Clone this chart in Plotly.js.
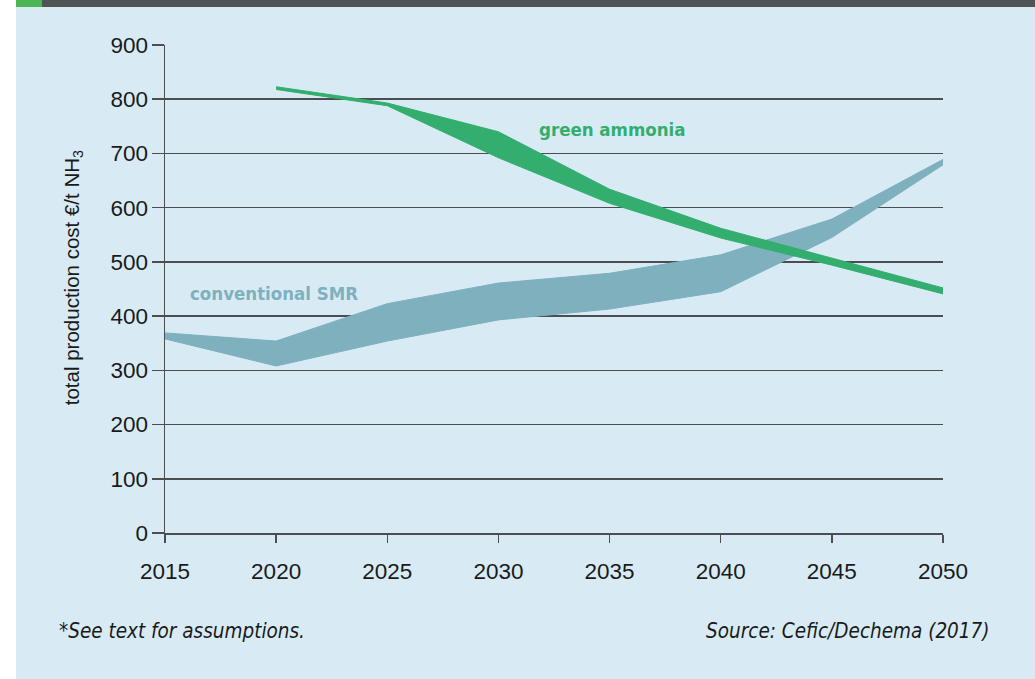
<!DOCTYPE html>
<html>
<head>
<meta charset="utf-8">
<script src="https://cdn.plot.ly/plotly-3.0.1.min.js"></script>
<style>
  html, body { margin: 0; padding: 0; background: #ffffff; }
  #chart { width: 1035px; height: 679px; }
</style>
</head>
<body>
<div id="chart"></div>
<script>
// ---- data ----
const smrYears   = [2015, 2020, 2025, 2030, 2035, 2040, 2045, 2050];
const smrLow     = [358, 308, 354, 393, 413, 445, 545, 679];
const smrHigh    = [369, 354, 423, 461, 479, 513, 579, 689];

const greenYears = [2020, 2025, 2030, 2035, 2040, 2045, 2050];
const greenLow   = [818, 788, 692, 608, 544, 494, 441];
const greenHigh  = [823, 793, 740, 634, 562, 507, 452];

const yTicks     = [0, 100, 200, 300, 400, 500, 600, 700, 800, 900];
const xTicks     = [2015, 2020, 2025, 2030, 2035, 2040, 2045, 2050];

const smrLabel   = 'conventional SMR';
const greenLabel = 'green ammonia';
const yTitle     = '&nbsp;&nbsp;&nbsp;&nbsp;total production cost €/t NH<sub>3</sub>';
const noteLeft   = '*See text for assumptions.';
const noteRight  = 'Source: Cefic/Dechema (2017)';

// ---- colours ----
const BG = '#d8ebf4';
const SMR_C = '#7fb0be';
const GREEN_C = '#33ae6e';
const LINE_C = '#4a4e50';
const TXT = '#1a1a1a';

function band(xs, lo, hi) {
  return {
    x: xs.concat(xs.slice().reverse()),
    y: hi.concat(lo.slice().reverse())
  };
}

const smrBand = band(smrYears, smrLow, smrHigh);
const greenBand = band(greenYears, greenLow, greenHigh);

const traces = [
  {
    type: 'scatter', mode: 'lines',
    x: smrBand.x, y: smrBand.y,
    fill: 'toself', fillcolor: SMR_C,
    line: { color: SMR_C, width: 1 },
    hoverinfo: 'skip', showlegend: false
  },
  {
    type: 'scatter', mode: 'lines',
    x: greenBand.x, y: greenBand.y,
    fill: 'toself', fillcolor: GREEN_C,
    line: { color: GREEN_C, width: 1 },
    hoverinfo: 'skip', showlegend: false
  }
];

// pixel helpers for paper-level decorations
const L = 165, R = 943, T = 45, B = 533;
const px = v => (v - L) / (R - L);
const py = v => (B - v) / (B - T);

const condensed = '"Liberation Sans Narrow", "DejaVu Sans Condensed", "Roboto Condensed", sans-serif';

const layout = {
  width: 1035, height: 679,
  margin: { l: L, r: 1035 - R, t: T, b: 679 - B },
  paper_bgcolor: BG,
  plot_bgcolor: BG,
  showlegend: false,
  font: { family: '"Liberation Sans", Arial, sans-serif', color: TXT },
  xaxis: {
    range: [2015, 2050],
    tickvals: xTicks,
    ticktext: xTicks.map(String),
    showgrid: false, zeroline: false,
    showline: true, linecolor: LINE_C, linewidth: 1.5,
    ticks: 'outside', ticklen: 8, tickwidth: 1.5, tickcolor: LINE_C,
    tickfont: { size: 22.5, color: TXT },
    ticklabelstandoff: 9,
    fixedrange: true
  },
  yaxis: {
    range: [0, 900],
    tickvals: yTicks,
    showgrid: true, gridcolor: LINE_C, gridwidth: 1.5,
    zeroline: false,
    showline: true, linecolor: LINE_C, linewidth: 1.5,
    ticks: 'outside', ticklen: 12, tickwidth: 1.5, tickcolor: LINE_C,
    tickfont: { size: 22.5, color: TXT },
    ticklabelstandoff: -1,
    title: { text: yTitle, font: { size: 20.5, color: TXT }, standoff: 25 },
    automargin: false,
    fixedrange: true
  },
  shapes: [
    { type: 'rect', xref: 'paper', yref: 'paper', x0: px(0), x1: px(16), y0: py(679), y1: py(0),
      fillcolor: '#ffffff', line: { width: 0 }, layer: 'above' },
    { type: 'rect', xref: 'paper', yref: 'paper', x0: px(16), x1: px(1035), y0: py(7), y1: py(0),
      fillcolor: '#505455', line: { width: 0 }, layer: 'above' },
    { type: 'rect', xref: 'paper', yref: 'paper', x0: px(16), x1: px(42), y0: py(7), y1: py(0),
      fillcolor: '#4ab552', line: { width: 0 }, layer: 'above' },
    { type: 'line', xref: 'paper', yref: 'paper', x0: 0, x1: 0, y0: py(541), y1: 0,
      line: { color: LINE_C, width: 1.5 } }
  ],
  annotations: [
    { xref: 'x', yref: 'y', x: 2016.05, y: 442, text: smrLabel, showarrow: false,
      xanchor: 'left', yanchor: 'middle',
      font: { family: condensed, size: 18.5, color: SMR_C, weight: 'bold' } },
    { xref: 'x', yref: 'y', x: 2031.75, y: 745, text: greenLabel, showarrow: false,
      xanchor: 'left', yanchor: 'middle',
      font: { family: condensed, size: 18.5, color: GREEN_C, weight: 'bold' } },
    { xref: 'paper', yref: 'paper', x: px(57), y: py(631), text: '<i>' + noteLeft + '</i>', showarrow: false,
      xanchor: 'left', yanchor: 'middle',
      font: { family: condensed, size: 20.5, color: TXT } },
    { xref: 'paper', yref: 'paper', x: px(992), y: py(631), text: '<i>' + noteRight + '</i>', showarrow: false,
      xanchor: 'right', yanchor: 'middle',
      font: { family: condensed, size: 20.5, color: TXT } }
  ]
};

Plotly.newPlot('chart', traces, layout, { displayModeBar: false, staticPlot: true });
</script>
</body>
</html>
